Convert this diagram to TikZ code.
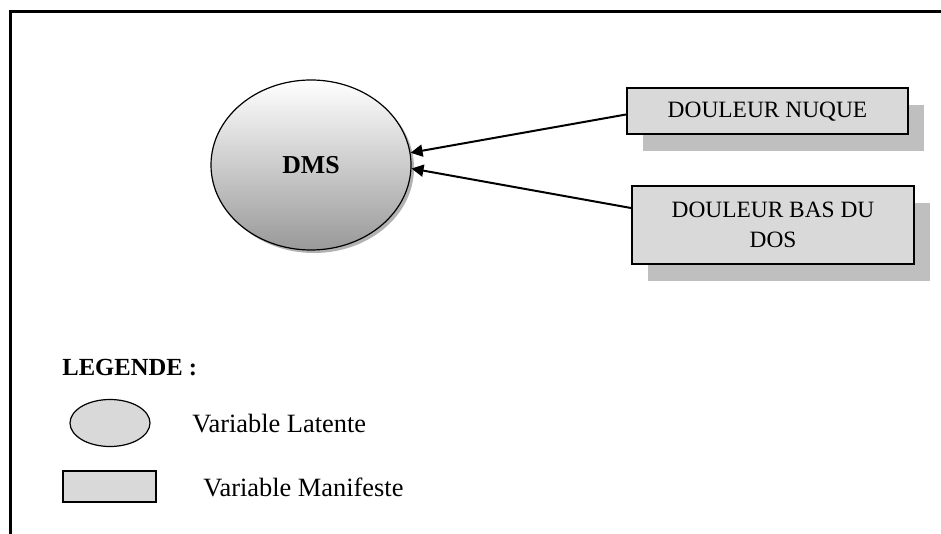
\documentclass[tikz,border=0pt]{standalone}
\usepackage{fontspec}
\setmainfont{Liberation Serif}
\usetikzlibrary{shapes.geometric,arrows.meta,shadows}
\begin{document}
\begin{tikzpicture}[x=0.5pt,y=-0.5pt,
  latente/.style={ellipse,draw,line width=0.6pt,inner sep=0pt},
  manifeste/.style={rectangle,draw,line width=1pt,fill=black!15,inner sep=0pt,align=center,
    font=\fontsize{11.7}{15}\selectfont,
    drop shadow={shadow xshift=8pt,shadow yshift=-8.5pt,fill=black!25,opacity=1}},
  lien/.style={line width=1pt,-{Triangle[length=6pt,width=6pt]}},
  legende/.style={anchor=west,inner sep=0pt,font=\fontsize{13.2}{16}\selectfont}]
\useasboundingbox (0,0) rectangle (941,534);
\draw[line width=1.25pt] (941,11.5) -- (10.5,11.5) -- (10.5,534);

\node[latente,minimum width=100pt,minimum height=85pt,top color=white,bottom color=black!40,
  drop shadow={shadow xshift=1.5pt,shadow yshift=-1.5pt,fill=black,opacity=.3},
  font=\bfseries\fontsize{12.9}{15}\selectfont] (dms) at (311,165) {DMS};
\node[manifeste,minimum width=140.5pt,minimum height=23pt] (nuque) at (767.5,111.5) {DOULEUR NUQUE};
\node[manifeste,minimum width=141pt,minimum height=38.5pt] (basdos) at (773,225) {DOULEUR BAS DU\\DOS};
\draw[lien] ([yshift=-1.5pt]nuque.west) -- (dms.7.5);
\draw[lien] ([yshift=8.5pt]basdos.west) -- (dms.-2);

\node[anchor=west,inner sep=0pt,font=\bfseries\fontsize{12.3}{15}\selectfont] (titre) at (62,368) {LEGENDE :};
\node[latente,fill=black!15,minimum width=40pt,minimum height=23.5pt] (ell) at (110,423) {};
\node[legende] (lat) at (192,424) {Variable Latente};
\node[rectangle,draw,fill=black!15,line width=0.6pt,minimum width=46.5pt,minimum height=15.5pt,inner sep=0pt] (rect) at (109.5,486.5) {};
\node[legende] (man) at (203,487) {Variable Manifeste};
\end{tikzpicture}
\end{document}
